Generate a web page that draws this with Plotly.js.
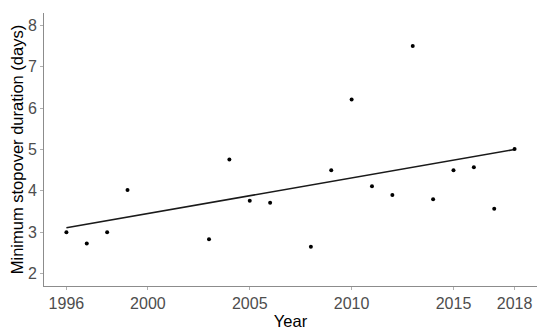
<!DOCTYPE html>
<html>
<head>
<meta charset="utf-8">
<script src="https://cdn.plot.ly/plotly-3.0.1.min.js"></script>
<style>html,body{margin:0;padding:0;background:#fff;}#chart{width:550px;height:335px;}</style>
</head>
<body>
<div id="chart"></div>
<script>
var years = [1996, 1997, 1998, 1999, 2003, 2004, 2005, 2006, 2008, 2009, 2010, 2011, 2012, 2013, 2014, 2015, 2016, 2017, 2018];
var durations = [3.0, 2.73, 3.0, 4.02, 2.83, 4.76, 3.76, 3.71, 2.65, 4.5, 6.21, 4.11, 3.9, 7.5, 3.8, 4.5, 4.57, 3.57, 5.01];
var fitYears = [1996, 2018];
var fitValues = [3.11, 5.0];
var xTicks = [1996, 2000, 2005, 2010, 2015, 2018];
var xTickLabels = ["1996", "2000", "2005", "2010", "2015", "2018"];
var yTicks = [2, 3, 4, 5, 6, 7, 8];

var traces = [
  {x: fitYears, y: fitValues, mode: 'lines', type: 'scatter',
   line: {color: '#1a1a1a', width: 1.6}, hoverinfo: 'skip'},
  {x: years, y: durations, mode: 'markers', type: 'scatter',
   marker: {color: '#000', size: 4}}
];

var axisFont = {family: 'Liberation Sans, Arial, sans-serif', size: 16, color: '#4d4d4d'};
var titleFont = {family: 'Liberation Sans, Arial, sans-serif', size: 16.5, color: '#000'};

var layout = {
  width: 550, height: 335,
  margin: {l: 44, r: 13, t: 13, b: 49},
  paper_bgcolor: '#fff', plot_bgcolor: '#fff',
  showlegend: false,
  xaxis: {
    range: [1994.9, 2019.1], tickvals: xTicks, ticktext: xTickLabels,
    showgrid: false, zeroline: false, showline: true, linecolor: '#8c8c8c', linewidth: 1,
    ticks: 'outside', ticklen: 3, tickcolor: '#b0b0b0', tickwidth: 1,
    tickfont: axisFont,
    title: {text: 'Year', font: titleFont, standoff: 4}
  },
  yaxis: {
    range: [1.7, 8.3], tickvals: yTicks,
    showgrid: false, zeroline: false, showline: true, linecolor: '#8c8c8c', linewidth: 1,
    ticks: 'outside', ticklen: 3, tickcolor: '#b0b0b0', tickwidth: 1,
    tickfont: axisFont,
    title: {text: 'Minimum stopover duration (days)', font: titleFont, standoff: 0}
  }
};

Plotly.newPlot('chart', traces, layout, {displayModeBar: false, staticPlot: true});
</script>
</body>
</html>
